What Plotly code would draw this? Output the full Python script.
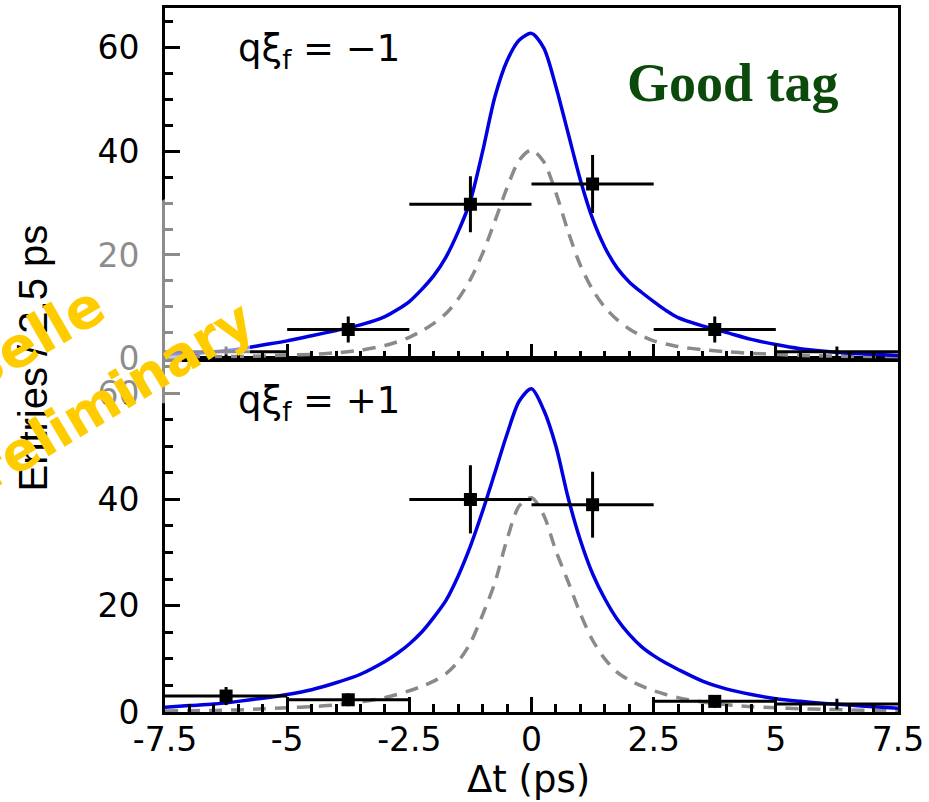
import plotly.graph_objects as go

# ---------------- data ----------------
bin_centers = [-6.25, -3.75, -1.25, 1.25, 3.75, 6.25]
bin_halfwidth = [1.25, 1.25, 1.25, 1.25, 1.25, 1.25]

# q*xi_f = -1 (top panel)
top_counts = [1.3, 5.6, 29.8, 33.7, 5.6, 1.3]
top_errors = [1.0, 2.5, 5.4, 5.6, 2.5, 1.0]
top_show_marker = [False, True, True, True, True, False]

# q*xi_f = +1 (bottom panel)
bot_counts = [3.0, 2.3, 40.0, 39.0, 2.0, 1.5]
bot_errors = [1.7, 1.2, 6.4, 6.2, 1.2, 1.0]
bot_show_marker = [True, True, True, True, True, False]

# fitted curves
curve_x = [-7.5, -7.0, -6.5, -6.0, -5.5, -5.0, -4.5, -4.0, -3.5, -3.0,
           -2.75, -2.5, -2.25, -2.0, -1.75, -1.5, -1.25, -1.0, -0.75, -0.5, -0.25, 0.0,
           0.25, 0.5, 0.75, 1.0, 1.25, 1.5, 1.75, 2.0, 2.25, 2.5, 2.75, 3.0,
           3.5, 4.0, 4.5, 5.0, 5.5, 6.0, 6.5, 7.0, 7.5]

top_fit_y = [0.8, 1.0, 1.3, 1.8, 2.6, 3.4, 4.4, 5.4, 6.5, 8.1,
             9.4, 11.0, 13.3, 16.0, 19.6, 24.5, 30.5, 40.0, 50.5, 57.5, 61.5, 62.8,
             60.0, 52.5, 43.5, 34.5, 27.0, 21.5, 17.5, 14.8, 12.8, 11.0, 9.3, 7.9,
             6.3, 5.0, 3.7, 2.7, 1.9, 1.4, 1.0, 0.8, 0.6]
top_bkg_y = [0.2, 0.3, 0.35, 0.4, 0.5, 0.65, 0.8, 1.1, 1.6, 2.5,
             3.2, 4.1, 5.3, 6.8, 8.7, 11.5, 15.3, 20.3, 26.5, 33.0, 38.3, 40.3,
             38.0, 32.0, 24.5, 18.0, 13.3, 9.9, 7.5, 5.7, 4.4, 3.4, 2.8, 2.3,
             1.7, 1.3, 1.0, 0.8, 0.6, 0.5, 0.4, 0.35, 0.3]
bot_fit_y = [0.9, 1.2, 1.5, 2.0, 2.6, 3.3, 4.2, 5.5, 7.1, 9.5,
             11.0, 12.8, 15.0, 17.8, 21.0, 25.6, 31.2, 37.8, 45.0, 52.3, 58.5, 60.8,
             56.8, 50.0, 40.3, 32.3, 26.0, 21.3, 17.5, 14.6, 12.3, 10.6, 9.2, 8.0,
             5.8, 4.3, 3.3, 2.5, 2.0, 1.6, 1.3, 1.0, 0.7]
bot_bkg_y = [0.2, 0.25, 0.3, 0.4, 0.6, 0.8, 1.0, 1.35, 1.9, 2.7,
             3.3, 4.0, 4.8, 5.8, 7.2, 9.5, 13.0, 18.3, 24.3, 32.5, 38.8, 40.3,
             37.0, 30.3, 24.5, 18.5, 13.5, 10.0, 7.5, 6.0, 4.9, 4.0, 3.3, 2.7,
             1.9, 1.35, 1.0, 0.8, 0.6, 0.5, 0.4, 0.3, 0.3]

x_tickvals = [-7.5, -5, -2.5, 0, 2.5, 5, 7.5]
x_ticktext = ["-7.5", "-5", "-2.5", "0", "2.5", "5", "7.5"]
y_tickvals = [0, 20, 40, 60]
y_ticktext = ["0", "20", "40", "60"]

# ---------------- layout geometry (pixels) ----------------
W, H = 929, 802
L, R, T, B = 165, 898, 5, 712
SPLIT = 357


def px(x):
    return (x - L) / (R - L)


def py(y):
    return (B - y) / (B - T)


BLUE = "#0000e0"
GRAY = "#8a8a8a"

fig = go.Figure()


def add_panel(xa, ya, fy, by, counts, errs, show):
    fig.add_trace(go.Scatter(x=curve_x, y=by, mode="lines", xaxis=xa, yaxis=ya,
                             line=dict(color=GRAY, width=3.5, dash="13px,9px", shape="spline",
                                       smoothing=0.8),
                             hoverinfo="skip", showlegend=False))
    fig.add_trace(go.Scatter(x=curve_x, y=fy, mode="lines", xaxis=xa, yaxis=ya,
                             line=dict(color=BLUE, width=3.5, shape="spline", smoothing=0.8),
                             hoverinfo="skip", showlegend=False))
    sizes = [13 if s else 0 for s in show]
    fig.add_trace(go.Scatter(x=bin_centers, y=counts, mode="markers", xaxis=xa, yaxis=ya,
                             marker=dict(symbol="square", size=sizes, color="black",
                                         opacity=1, line=dict(width=0)),
                             error_x=dict(type="data", array=bin_halfwidth, thickness=3,
                                          width=0, color="black"),
                             error_y=dict(type="data", array=errs, thickness=3,
                                          width=0, color="black"),
                             showlegend=False))


add_panel("x", "y", bot_fit_y, bot_bkg_y, bot_counts, bot_errors, bot_show_marker)
add_panel("x2", "y2", top_fit_y, top_bkg_y, top_counts, top_errors, top_show_marker)

tickfont = dict(family="DejaVu Sans, sans-serif", size=33, color="black")
common = dict(showline=True, linewidth=3, linecolor="black", mirror=True,
              ticks="inside", tickwidth=3, tickcolor="black", ticklen=15,
              showgrid=False, zeroline=False, tickfont=tickfont)

xcommon = dict(common, range=[-7.5, 7.5], tickmode="array", tickvals=x_tickvals,
               ticktext=x_ticktext,
               minor=dict(ticks="inside", dtick=0.5, tick0=0, ticklen=8, tickwidth=2.5,
                          tickcolor="black", showgrid=False))
ycommon = dict(common, tickmode="array", tickvals=y_tickvals, ticktext=y_ticktext,
               ticklabelstandoff=16,
               minor=dict(ticks="inside", dtick=5, tick0=0, ticklen=8, tickwidth=2.5,
                          tickcolor="black", showgrid=False))

fig.update_layout(
    width=W, height=H,
    margin=dict(l=L, r=W - R, t=T, b=H - B, pad=0),
    paper_bgcolor="white", plot_bgcolor="white",
    showlegend=False,
    xaxis=dict(xcommon, domain=[0, 1], anchor="y", ticklabelstandoff=-4),
    yaxis=dict(ycommon, domain=[0, py(SPLIT)], anchor="x", range=[0, 66.5]),
    xaxis2=dict(xcommon, domain=[0, 1], anchor="y2", matches="x", showticklabels=False),
    yaxis2=dict(ycommon, domain=[py(SPLIT), 1], anchor="x2", range=[0, 67.7]),
)

# translucent patch behind the watermark
poly = [(0, 292), (168, 195), (250, 195), (250, 353), (182, 353), (182, 402), (0, 402)]
path = "M " + " L ".join(f"{px(a):.5f},{py(b):.5f}" for a, b in poly) + " Z"
fig.add_shape(type="path", path=path, xref="paper", yref="paper",
              fillcolor="rgba(255,255,255,0.55)", line=dict(width=0), layer="above")

ann = []
helv = "Liberation Sans, Arial, sans-serif"
dv = "DejaVu Sans, sans-serif"
ann.append(dict(text="qξ<sub>f</sub> = −1", x=px(236), y=py(48), xanchor="left", yanchor="middle",
                font=dict(family=dv, size=37, color="black")))
ann.append(dict(text="qξ<sub>f</sub> = +1", x=px(236), y=py(402), xanchor="left", yanchor="middle",
                font=dict(family=dv, size=37, color="black")))
ann.append(dict(text="<b>Good tag</b>", x=px(733), y=py(80), xanchor="center", yanchor="middle",
                font=dict(family="Liberation Serif, Times New Roman, serif", size=54, color="#0b4a0b")))
ann.append(dict(text="Entries / 2.5 ps", x=px(33), y=py(357), xanchor="center", yanchor="middle",
                textangle=-90, font=dict(family=helv, size=40, color="black")))
ann.append(dict(text="Δt (ps)", x=px(528), y=py(780), xanchor="center", yanchor="middle",
                font=dict(family=dv, size=37, color="black")))
ann.append(dict(text="<b>Belle</b>", x=px(31), y=py(338), xanchor="center", yanchor="middle",
                textangle=-30, font=dict(family=dv, size=56, color="#ffcc00")))
ann.append(dict(text="<b>Preliminary</b>", x=px(97), y=py(404), xanchor="center", yanchor="middle",
                textangle=-31, font=dict(family=dv, size=54, color="#ffcc00")))
for a in ann:
    a.update(xref="paper", yref="paper", showarrow=False)
fig.update_layout(annotations=ann)

fig.write_html("out.html")
